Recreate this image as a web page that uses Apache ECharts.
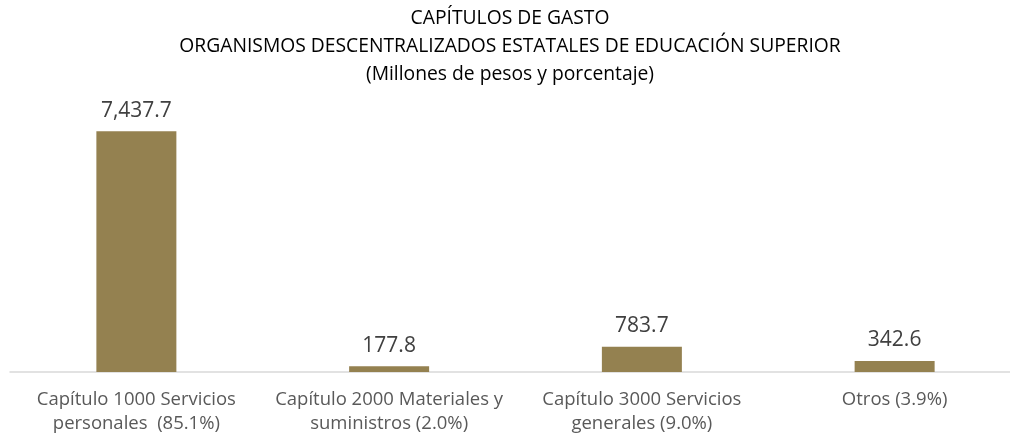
<!DOCTYPE html>
<html lang="es">
	<head>
		<meta charset="UTF-8" />
		<title>Capítulos de gasto</title>
		<script src="https://cdn.jsdelivr.net/npm/echarts@6/dist/echarts.min.js"></script>
		<style>
			html, body { margin: 0; padding: 0; background: #fff; }
		</style>
	</head>
	<body>
		<div id="chart" style="width: 1010px; height: 439px"></div>

		<script>
			const categories = [
				"Capítulo 1000 Servicios\npersonales  (85.1%)",
				"Capítulo 2000 Materiales y\nsuministros (2.0%)",
				"Capítulo 3000 Servicios\ngenerales (9.0%)",
				"Otros (3.9%)",
			];
			const values = [7437.7, 177.8, 783.7, 342.6];
			const titleLines = [
				"CAPÍTULOS DE GASTO",
				"ORGANISMOS DESCENTRALIZADOS ESTATALES DE EDUCACIÓN SUPERIOR",
				"(Millones de pesos y porcentaje)",
			];

			const font = "'Open Sans', sans-serif";
			const chart = echarts.init(document.getElementById("chart"));

			const option = {
				animation: false,
				title: {
					text: titleLines.join("\n"),
					left: 505,
					top: 0,
					textAlign: "center",
					textStyle: {
						fontFamily: font,
						fontSize: 19.3,
						fontWeight: "normal",
						color: "#000",
						lineHeight: 28,
					},
				},
				grid: {
					left: 10,
					top: 113,
					width: 1011,
					height: 259,
					containLabel: false,
					outerBoundsMode: "none",
				},
				xAxis: {
					type: "category",
					data: categories,
					axisTick: { show: false },
					axisLine: { lineStyle: { color: "#d9d9d9", width: 1.5 } },
					axisLabel: {
						interval: 0,
						margin: 16,
						fontFamily: font,
						fontSize: 18.5,
						lineHeight: 24,
						color: "#595959",
						verticalAlign: "top",
					},
				},
				yAxis: {
					type: "value",
					min: 0,
					max: 8000,
					show: false,
					splitLine: { show: false },
				},
				series: [
					{
						type: "bar",
						data: values,
						barWidth: 80,
						itemStyle: { color: "#948150" },
						label: {
							show: true,
							position: "top",
							distance: 10,
							fontFamily: font,
							fontSize: 21,
							color: "#404040",
							formatter: (p) =>
								p.value.toLocaleString("en-US", {
									minimumFractionDigits: 1,
									maximumFractionDigits: 1,
								}),
						},
					},
				],
			};

			chart.setOption(option);
		</script>
	</body>
</html>
